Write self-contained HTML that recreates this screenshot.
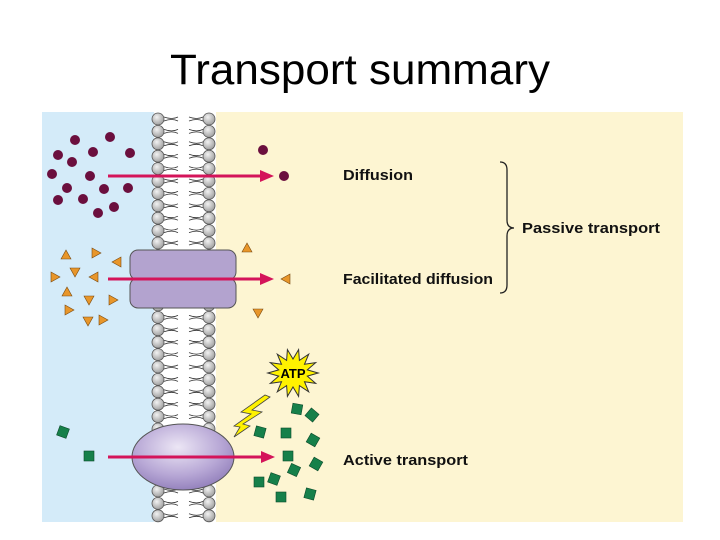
<!DOCTYPE html>
<html><head><meta charset="utf-8"><style>
html,body{margin:0;padding:0;background:#fff;width:720px;height:540px;overflow:hidden}
svg{display:block}
</style></head><body>
<svg id="s" width="720" height="540" xmlns="http://www.w3.org/2000/svg" font-family="Liberation Sans, Arial, sans-serif">
<defs>
<radialGradient id="hd" cx="0.4" cy="0.35" r="0.7"><stop offset="0" stop-color="#f2f2f2"/><stop offset="1" stop-color="#9a9a9a"/></radialGradient>
<radialGradient id="el" cx="0.45" cy="0.35" r="0.7"><stop offset="0" stop-color="#ece6f5"/><stop offset="0.6" stop-color="#b8a8d6"/><stop offset="1" stop-color="#8e7bb8"/></radialGradient>
</defs>
<text x="170" y="84" font-size="43" textLength="380" lengthAdjust="spacingAndGlyphs" fill="#000">Transport summary</text>
<rect x="42" y="112" width="112" height="410" fill="#d4ebf9"/>
<rect x="154" y="112" width="62" height="410" fill="#fff"/>
<rect x="216" y="112" width="467" height="410" fill="#fdf5d2"/>
<g id="mem"></g>
<rect x="130" y="250" width="106" height="30" rx="8" fill="#b3a3cf" stroke="#555" stroke-width="1"/>
<rect x="130" y="278" width="106" height="30" rx="8" fill="#b3a3cf" stroke="#555" stroke-width="1"/>
<ellipse cx="183" cy="457" rx="51" ry="33" fill="url(#el)" stroke="#555" stroke-width="1"/>
<g id="mol"></g>
<g stroke="#d4145a" stroke-width="3" fill="#d4145a">
<line x1="108" y1="176" x2="262" y2="176"/><polygon points="260,170 274,176 260,182" stroke="none"/>
<line x1="108" y1="279" x2="262" y2="279"/><polygon points="260,273 274,279 260,285" stroke="none"/>
<line x1="108" y1="457" x2="263" y2="457"/><polygon points="261,451 275,457 261,463" stroke="none"/>
</g>
<polygon id="star" fill="#fff200" stroke="#333" stroke-width="1"/>
<text x="293" y="378" font-size="13" font-weight="bold" text-anchor="middle">ATP</text>
<polygon points="270,397 252,410 262,412 243,424 250,426 234,437 240,427 234,426 251,414 241,412 265,395" fill="#fff200" stroke="#444" stroke-width="0.8"/>
<g font-size="14.5" font-weight="bold" fill="#111" lengthAdjust="spacingAndGlyphs">
<text x="343" y="180" textLength="70" lengthAdjust="spacingAndGlyphs">Diffusion</text>
<text x="343" y="284" textLength="150" lengthAdjust="spacingAndGlyphs">Facilitated diffusion</text>
<text x="522" y="233" textLength="138" lengthAdjust="spacingAndGlyphs">Passive transport</text>
<text x="343" y="465" textLength="125" lengthAdjust="spacingAndGlyphs">Active transport</text>
</g>
<path d="M500,162 Q507,162 507,170 L507,220 Q507,228 514,228 Q507,228 507,236 L507,285 Q507,293 500,293" fill="none" stroke="#222" stroke-width="1.3"/>
</svg>
<script>
var ns="http://www.w3.org/2000/svg",mem=document.getElementById('mem'),mol=document.getElementById('mol');
function el(p,t,a){var e=document.createElementNS(ns,t);for(var k in a)e.setAttribute(k,a[k]);p.appendChild(e);return e;}
for(var y=119;y<525;y+=12.4){
 el(mem,'path',{d:'M164,'+(y-2)+' q8,3 14,0 M164,'+(y+2)+' q8,-3 14,0 M189,'+(y-2)+' q8,3 14,0 M189,'+(y+2)+' q8,-3 14,0',stroke:'#333','stroke-width':0.8,fill:'none'});
 el(mem,'circle',{cx:158,cy:y,r:6,fill:'url(#hd)',stroke:'#555','stroke-width':0.8});
 el(mem,'circle',{cx:209,cy:y,r:6,fill:'url(#hd)',stroke:'#555','stroke-width':0.8});
}
[[75,140],[110,137],[58,155],[93,152],[130,153],[72,162],[52,174],[90,176],[67,188],[104,189],[128,188],[58,200],[83,199],[114,207],[98,213],[263,150],[284,176]].forEach(function(p){el(mol,'circle',{cx:p[0],cy:p[1],r:5,fill:'#6b0f3e'});});
[[66,255,0],[96,253,90],[117,262,-90],[55,277,90],[75,272,180],[94,277,-90],[67,292,0],[89,300,180],[113,300,90],[69,310,90],[88,321,180],[103,320,90],[247,248,0],[286,279,-90],[258,313,180]].forEach(function(p){el(mol,'polygon',{points:'-5,4 5,4 0,-5',fill:'#e8962a',stroke:'#7a4a10','stroke-width':0.6,transform:'translate('+p[0]+','+p[1]+') rotate('+p[2]+')'});});
[[63,432,20],[89,456,0],[297,409,10],[312,415,40],[260,432,15],[286,433,0],[313,440,30],[288,456,0],[294,470,25],[316,464,30],[259,482,0],[274,479,20],[281,497,0],[310,494,15]].forEach(function(p){el(mol,'rect',{x:-5,y:-5,width:10,height:10,fill:'#16804a',stroke:'#0b4a2a','stroke-width':0.6,transform:'translate('+p[0]+','+p[1]+') rotate('+p[2]+')'});});
var pts=[];for(var i=0;i<28;i++){var a=i*Math.PI/14,r=i%2?14:24;pts.push((293+r*1.05*Math.cos(a)).toFixed(1)+','+(373+r*Math.sin(a)).toFixed(1));}
document.getElementById('star').setAttribute('points',pts.join(' '));
</script>
</body></html>
